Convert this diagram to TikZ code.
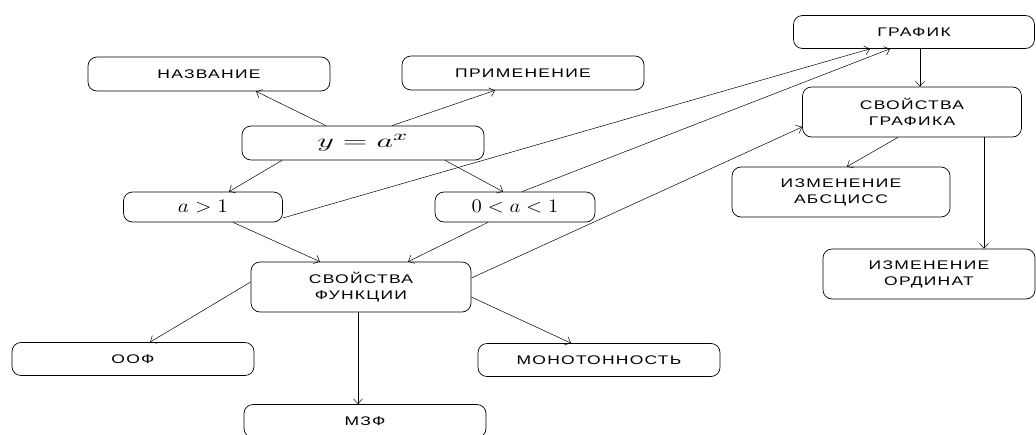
\documentclass[tikz,border=0pt]{standalone}
\usepackage{fontspec}
\usepackage{graphicx}
\setmainfont{Liberation Sans}[FakeStretch=1.4,LetterSpace=10]
\usetikzlibrary{arrows.meta}

\tikzset{
  box/.style = {draw, rounded corners=9pt, line width=0.7pt, align=center,
    inner sep=0pt, font=\fontsize{12.5}{16}\selectfont},
  wide/.style = {box, minimum width=242pt, minimum height=34pt},
  tall/.style = {box, minimum width=220pt, minimum height=50pt},
  link/.style = {-{Straight Barb[length=5pt,width=9pt]}, line width=0.5pt},
}
\newcommand{\eqn}[2][1.8]{\scalebox{#1}[1.6]{$#2$}}

\begin{document}
\begin{tikzpicture}[x=1pt, y=-1pt]
  \useasboundingbox (0,0) rectangle (1036,434);
  \clip (0,0) rectangle (1036,434);

  % function part
  \node[wide] (title) at (209,74) {НАЗВАНИЕ};
  \node[wide] (usage) at (523,73) {ПРИМЕНЕНИЕ};
  \node[wide] (func) at (363,143) {\eqn[2.7]{y=a^{x}}};
  \node[box, minimum width=159pt, minimum height=30pt] (agt) at (203,207) {\eqn{a>1}};
  \node[box, minimum width=160pt, minimum height=30pt] (alt) at (515,207) {\eqn[1.75]{0<a<1}};
  \node[tall] (fprop) at (361,287) {СВОЙСТВА\\ФУНКЦИИ};
  \node[wide, minimum height=33pt] (oof) at (133,359) {ООФ};
  \node[wide, minimum height=33pt] (mono) at (599,360) {МОНОТОННОСТЬ};
  \node[wide, minimum height=33pt] (mzf) at (365,421) {МЗФ};

  % graph part
  \node[wide, minimum width=241pt, minimum height=33pt] (graph) at (914,32) {ГРАФИК};
  \node[tall, minimum width=219pt] (gprop) at (912,112) {СВОЙСТВА\\ГРАФИКА};
  \node[tall, minimum width=218pt] (absc) at (841,192) {ИЗМЕНЕНИЕ\\АБСЦИСС};
  \node[tall, minimum width=212pt] (ordin) at (929,274) {ИЗМЕНЕНИЕ\\ОРДИНАТ};

  % connectors
  \draw[link] ([xshift=-37pt]func.north) -- ([xshift=47pt]title.south);
  \draw[link] ([xshift=29pt]func.north) -- ([xshift=-28pt]usage.south);
  \draw[link] ([xshift=-81pt]func.south) -- ([xshift=26pt]agt.north);
  \draw[link] ([xshift=82pt]func.south) -- ([xshift=-12pt]alt.north);
  \draw[link] ([yshift=-11pt]agt.east) -- ([xshift=-44pt]graph.south);
  \draw[link] ([xshift=7pt]alt.north) -- ([xshift=-24pt]graph.south);
  \draw[link] ([xshift=30pt]agt.south) -- ([xshift=-41pt]fprop.north);
  \draw[link] ([xshift=-27pt]alt.south) -- ([xshift=47pt]fprop.north);
  \draw[link] ([yshift=9pt]fprop.east) -- ([yshift=-15pt]gprop.west);
  \draw[link] ([yshift=5pt]fprop.west) -- ([xshift=17pt]oof.north);
  \draw[link] ([xshift=-3pt]fprop.south) -- ([xshift=-3pt]fprop.south |- mzf.north);
  \draw[link] ([yshift=-10pt]fprop.east) -- ([xshift=-28pt]mono.north);
  \draw[link] ([xshift=6pt]graph.south) -- ([xshift=6pt]graph.south |- gprop.north);
  \draw[link] ([xshift=-14pt]gprop.south) -- ([xshift=6pt]absc.north);
  \draw[link] ([xshift=72pt]gprop.south) -- ([xshift=72pt]gprop.south |- ordin.north);
\end{tikzpicture}
\end{document}
